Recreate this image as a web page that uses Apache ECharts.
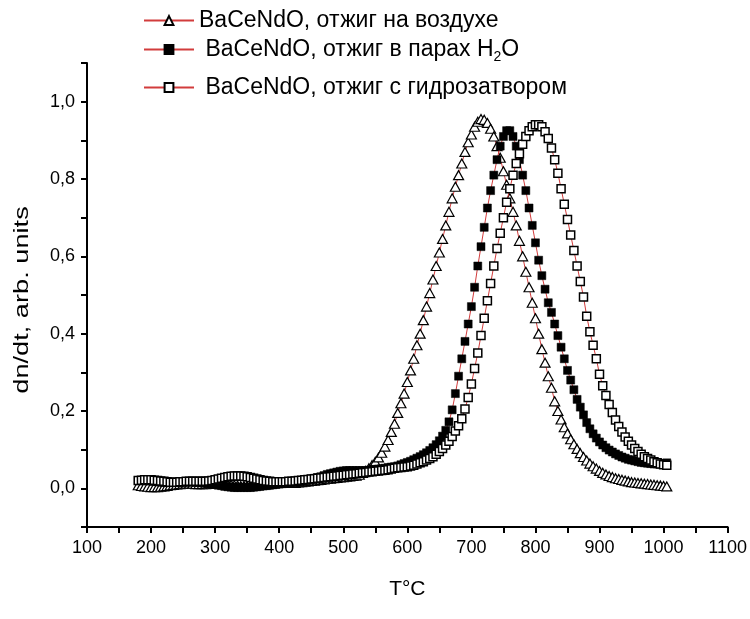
<!DOCTYPE html>
<html>
<head>
<meta charset="utf-8">
<script src="https://cdn.jsdelivr.net/npm/echarts@6/dist/echarts.min.js"></script>
<style>
html,body{margin:0;padding:0;background:#fff;}
#chart{width:750px;height:619px;}
</style>
</head>
<body>
<div id="chart"></div>
<script>
// Temperatures (°C)
var temps = [
180,185,190,195,200,205,210,215,220,225,
230,235,240,245,250,255,260,265,270,275,
280,285,290,295,300,305,310,315,320,325,
330,335,340,345,350,355,360,365,370,375,
380,385,390,395,400,405,410,415,420,425,
430,435,440,445,450,455,460,465,470,475,
480,485,490,495,500,505,510,515,520,525,
530,535,540,545,550,555,560,565,570,575,
580,585,590,595,600,605,610,615,620,625,
630,635,640,645,650,655,660,665,670,675,
680,685,690,695,700,705,710,715,720,725,
730,735,740,745,750,755,760,765,770,775,
780,785,790,795,800,805,810,815,820,825,
830,835,840,845,850,855,860,865,870,875,
880,885,890,895,900,905,910,915,920,925,
930,935,940,945,950,955,960,965,970,975,
980,985,990,995,1000,1005];

// BaCeNdO, отжиг на воздухе (open triangles)
var airValues = [
.008,.006,.005,.004,.003,.003,.003,.004,.005,.006,
.008,.009,.010,.011,.012,.012,.012,.012,.011,.011,
.011,.011,.012,.012,.013,.013,.012,.011,.010,.009,
.008,.007,.006,.006,.006,.006,.007,.008,.009,.010,
.011,.012,.013,.014,.014,.014,.014,.014,.014,.014,
.015,.016,.017,.018,.019,.020,.021,.022,.023,.024,
.025,.026,.027,.028,.029,.030,.031,.032,.033,.035,
.040,.045,.052,.060,.069,.080,.092,.108,.125,.146,
.167,.195,.220,.245,.275,.305,.335,.370,.400,.435,
.470,.505,.540,.575,.610,.645,.680,.715,.750,.780,
.810,.840,.870,.895,.915,.935,.948,.955,.953,.945,
.930,.910,.885,.855,.820,.785,.750,.715,.680,.640,
.600,.560,.520,.480,.440,.400,.360,.325,.290,.260,
.225,.200,.178,.158,.142,.127,.114,.102,.091,.081,
.072,.064,.057,.051,.045,.040,.036,.032,.029,.026,
.024,.022,.020,.018,.016,.015,.014,.013,.012,.011,
.010,.009,.008,.007,.006,.005];

// BaCeNdO, отжиг в парах H2O (filled squares)
var vaporValues = [
.020,.020,.020,.019,.019,.018,.017,.016,.015,.015,
.015,.015,.015,.016,.016,.016,.016,.016,.015,.015,
.014,.013,.012,.011,.010,.008,.007,.005,.004,.003,
.002,.002,.002,.002,.002,.002,.003,.004,.005,.006,
.007,.008,.009,.010,.011,.012,.013,.014,.015,.016,
.017,.018,.020,.022,.024,.026,.028,.030,.033,.036,
.038,.040,.042,.044,.045,.046,.046,.046,.046,.046,
.046,.046,.047,.048,.049,.050,.051,.052,.054,.055,
.056,.058,.061,.064,.067,.070,.074,.078,.082,.087,
.092,.098,.105,.113,.123,.135,.150,.172,.203,.245,
.290,.335,.380,.425,.470,.520,.575,.625,.675,.725,
.770,.810,.850,.885,.910,.925,.925,.910,.885,.850,
.810,.770,.725,.680,.635,.590,.550,.515,.480,.455,
.425,.395,.365,.335,.305,.280,.255,.230,.210,.190,
.170,.154,.141,.130,.120,.112,.105,.099,.094,.089,
.085,.081,.078,.075,.073,.071,.069,.067,.066,.065,
.064,.063,.063,.063,.064,.066];

// BaCeNdO, отжиг с гидрозатвором (open squares)
var sealValues = [
.020,.021,.022,.022,.022,.021,.020,.019,.018,.017,
.016,.016,.016,.017,.017,.018,.018,.018,.018,.018,
.018,.018,.019,.020,.022,.024,.026,.028,.030,.031,
.032,.032,.032,.031,.030,.028,.026,.024,.022,.020,
.019,.018,.017,.017,.017,.017,.017,.018,.018,.019,
.020,.021,.022,.023,.024,.025,.026,.027,.028,.029,
.030,.031,.032,.033,.034,.035,.036,.037,.038,.039,
.040,.041,.042,.043,.044,.045,.046,.047,.048,.050,
.052,.053,.054,.055,.056,.058,.060,.063,.066,.069,
.073,.077,.082,.088,.095,.103,.112,.122,.134,.148,
.162,.180,.205,.235,.270,.310,.350,.395,.440,.485,
.530,.575,.620,.660,.700,.740,.775,.810,.840,.865,
.890,.910,.925,.935,.940,.940,.935,.922,.905,.880,
.850,.815,.775,.735,.695,.655,.615,.575,.535,.495,
.445,.405,.370,.335,.295,.265,.240,.217,.196,.177,
.160,.146,.133,.122,.112,.103,.095,.088,.082,.077,
.073,.069,.066,.063,.061,.060];

var seriesNames = ['BaCeNdO, отжиг на воздухе', 'BaCeNdO, отжиг в парах H2O', 'BaCeNdO, отжиг с гидрозатвором'];
var xTitle = 'T°C';
var yTitle = 'dn/dt, arb. units';

function pairs(vals){ return temps.map(function(t,i){ return [t, vals[i]]; }); }

var FONT = '"Liberation Sans", Arial, sans-serif';
var chart = echarts.init(document.getElementById('chart'), null, {renderer:'canvas'});

var legendText = {color:'#000', fontFamily:FONT, fontSize:23,
  rich:{ sub:{fontFamily:FONT, fontSize:14, color:'#000', verticalAlign:'bottom', padding:[15,0,0,0]} }};

function legendAt(name, top, fmt){
  return {data:[name], left:143, top:top, orient:'vertical', itemWidth:50, itemHeight:11, itemGap:0, padding:0,
    selectedMode:false, textStyle:legendText, formatter: fmt || function(n){return n;}};
}

chart.setOption({
  animation:false,
  backgroundColor:'#fff',
  grid:{left:87, right:18, top:63, bottom:92},
  legend:[
    legendAt(seriesNames[0], 9),
    legendAt(seriesNames[1], 38, function(n){ return ' ' + n.replace('H2O','H{sub|2}O'); }),
    legendAt(seriesNames[2], 76, function(n){ return ' ' + n; })
  ],
  graphic:[
    {type:'text', x:22, y:300, rotation:Math.PI/2, scaleX:1.36, scaleY:1,
      style:{text:yTitle, fill:'#000', font:'20px "Liberation Sans", Arial, sans-serif', align:'center', verticalAlign:'middle'}}
  ],
  xAxis:{type:'value', min:100, max:1100, interval:50,
    name:xTitle, nameLocation:'middle', nameGap:52,
    nameTextStyle:{fontFamily:FONT, fontSize:21, color:'#000'},
    axisLine:{onZero:false, lineStyle:{color:'#000', width:2}},
    axisTick:{length:6, lineStyle:{color:'#000', width:2}},
    splitLine:{show:false},
    axisLabel:{fontFamily:FONT, fontSize:18, color:'#000', margin:12, showMinLabel:true, showMaxLabel:true,
      formatter:function(v){ return (Math.round(v) % 100 === 0) ? String(Math.round(v)) : ''; }}
  },
  yAxis:{type:'value', min:-0.1, max:1.1, interval:0.1,
    axisLine:{show:true, onZero:false, lineStyle:{color:'#000', width:2}},
    axisTick:{show:true, length:6, lineStyle:{color:'#000', width:2}},
    splitLine:{show:false},
    axisLabel:{fontFamily:FONT, fontSize:18, color:'#000', margin:12, showMinLabel:true, showMaxLabel:true,
      formatter:function(v){ var k = Math.round(v*10); if (k % 2 !== 0 || k < 0) return ''; return (k/10).toFixed(1).replace('.', ','); }}
  },
  series:[
    {name:seriesNames[0], type:'line', data:pairs(airValues), symbol:'triangle', symbolSize:[10,9],
      itemStyle:{color:'#fff', borderColor:'#000', borderWidth:1.2},
      lineStyle:{color:'#d23c3c', width:1}, z:2},
    {name:seriesNames[1], type:'line', data:pairs(vaporValues), symbol:'rect', symbolSize:8,
      itemStyle:{color:'#000', borderColor:'#000', borderWidth:0.5},
      lineStyle:{color:'#d23c3c', width:1}, z:3},
    {name:seriesNames[2], type:'line', data:pairs(sealValues), symbol:'rect', symbolSize:8,
      itemStyle:{color:'#fff', borderColor:'#000', borderWidth:1.5},
      lineStyle:{color:'#d23c3c', width:1}, z:4}
  ]
});
</script>
</body>
</html>
